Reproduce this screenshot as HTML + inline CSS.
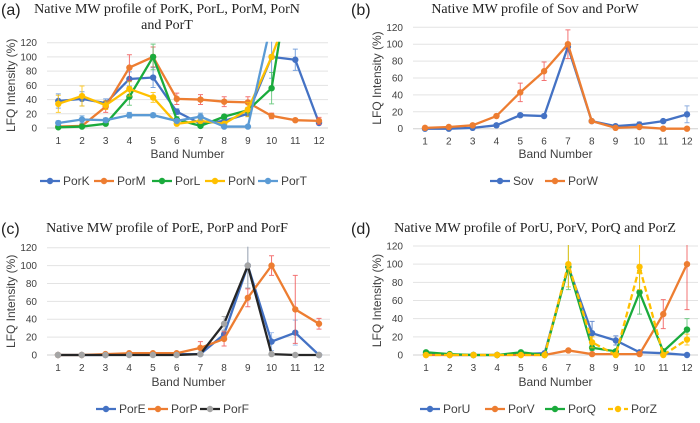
<!DOCTYPE html>
<html><head><meta charset="utf-8">
<style>
body{margin:0;background:#fff;width:700px;height:418px;overflow:hidden}
svg text{font-family:"Liberation Sans",sans-serif;fill:#404040}
.ttl{font-family:"Liberation Serif",serif;fill:#222;font-size:14px}
.pl{font-family:"Liberation Sans",sans-serif;fill:#222;font-size:16px}
</style></head>
<body>
<svg id="c" width="700" height="418" xmlns="http://www.w3.org/2000/svg"></svg>
<script>
const bands=[1,2,3,4,5,6,7,8,9,10,11,12];
const yTicks=[0,20,40,60,80,100,120];
// Panel a
const aPorK=[38,41,35,69,71,23,6,10,20,100,96,7];
const aPorM=[2,3,30,85,100,41,40,37,36,17,11,10];
const aPorL=[1,2,6,44,100,12,3,16,25,56,260,260];
const aPorN=[34,45,32,55,43,6,10,6,26,100,190,190];
const aPorT=[7,12,11,18,18,10,16,2,2,150,150,150];
const aErrK=[10,10,6,10,14,4,2,3,4,30,15,2];
const aErrM=[2,2,8,18,14,8,7,7,8,4,2,5];
const aErrL=[1,1,2,12,18,4,2,3,4,22,0,0];
const aErrN=[12,14,6,10,7,2,3,2,10,0,0,0];
const aErrT=[3,5,3,4,3,2,5,2,1,0,0,0];
// Panel b
const bSov=[0,0,1,4,16,15,97,9,3,5,9,17];
const bPorW=[1,2,4,15,43,68,100,9,1,2,0,0];
const bErrSov=[0,0,0,1,2,2,3,1,1,3,2,10];
const bErrW=[0,1,1,2,11,11,17,1,1,1,0,0];
// Panel c
const cPorE=[0,0,0,1,1,1,1,23,100,15,25,0];
const cPorP=[0,0,1,2,2,2,8,18,64,100,51,35];
const cPorF=[0,0,0,0,0,0,1,35,100,1,0,0];
const cErrE=[0,0,0,0,0,0,0,5,25,10,14,0];
const cErrP=[0,0,0,0,0,0,7,8,10,11,38,6];
const cErrF=[0,0,0,0,0,0,0,8,25,1,0,0];
// Panel d
const dPorU=[1,0,0,0,1,2,97,24,16,3,2,0];
const dPorV=[0,0,0,0,0,0,5,1,1,1,45,100];
const dPorQ=[3,1,0,0,3,0,97,8,4,69,4,28];
const dPorZ=[0,0,0,0,0,0,100,14,0,97,0,17];
const dErrU=[0,0,0,0,0,0,3,13,5,1,1,0];
const dErrV=[0,0,0,0,0,0,1,0,0,0,16,50];
const dErrQ=[1,0,0,0,1,0,25,3,2,24,2,12];
const dErrZ=[0,0,0,0,0,0,25,6,0,25,0,6];

const svg=document.getElementById('c');
const NS='http://www.w3.org/2000/svg';
function el(tag,attrs,parent){const e=document.createElementNS(NS,tag);for(const k in attrs)e.setAttribute(k,attrs[k]);(parent||svg).appendChild(e);return e;}

const panels=[
 {id:'a',label:'(a)',title:['Native MW profile of PorK, PorL, PorM, PorN','and PorT'],tx:167,ty:[13,29],
  gx0:47,gx1:328,x1:58.3,x12:319,y0:128,y120:42.7,bandY:158,legY:185,
  series:[['PorK',aPorK,aErrK,'#4472C4','#5b8fd6',false],['PorM',aPorM,aErrM,'#ED7D31','#f05050',false],['PorL',aPorL,aErrL,'#1aab3c','#52c06a',false],['PorN',aPorN,aErrN,'#FFC000','#ffc000',false],['PorT',aPorT,aErrT,'#5B9BD5','#5b9bd5',false]],
  leg:[40,94,152,205,258]},
 {id:'b',label:'(b)',title:['Native MW profile of Sov and PorW'],tx:535,ty:[13],
  gx0:413,gx1:698,x1:425,x12:687,y0:128.7,y120:27.3,bandY:158,legY:185,
  series:[['Sov',bSov,bErrSov,'#4472C4','#6f97d6',false],['PorW',bPorW,bErrW,'#ED7D31','#f05050',false]],
  leg:[490,545]},
 {id:'c',label:'(c)',title:['Native MW profile of PorE, PorP and PorF'],tx:167,ty:[232],
  gx0:47,gx1:330,x1:58,x12:319,y0:355,y120:247.7,bandY:386,legY:413,
  series:[['PorE',cPorE,cErrE,'#4472C4','#8fb0e6',false],['PorP',cPorP,cErrP,'#ED7D31','#f05050',false],['PorF',cPorF,cErrF,'#262626','#a5a5a5',false]],
  leg:[96,148,200],mk:['#4472C4','#ED7D31','#a5a5a5']},
 {id:'d',label:'(d)',title:['Native MW profile of PorU, PorV, PorQ and PorZ'],tx:535,ty:[232],
  gx0:413,gx1:698,x1:426,x12:687,y0:355,y120:246,bandY:386,legY:413,
  series:[['PorU',dPorU,dErrU,'#4472C4','#4472C4',false],['PorV',dPorV,dErrV,'#ED7D31','#f05050',false],['PorQ',dPorQ,dErrQ,'#1aab3c','#52c06a',false],['PorZ',dPorZ,dErrZ,'#FFC000','#ffc000',true]],
  leg:[420,485,545,608]}
];

panels.forEach(p=>{
  const g=el('g',{});
  
  
  const xs=b=>p.x1+(b-1)*(p.x12-p.x1)/11;
  const ys=v=>p.y0-v*(p.y0-p.y120)/120;
  const cx0=p.gx0, cw=p.gx1-p.gx0;
  const lbl=el('text',{x:0,y:p.ty[0]+2,'class':'pl'},g);lbl.textContent=p.label;
  lbl.setAttribute('x',p.id==='a'||p.id==='c'?1:351);
  
  
  p.title.forEach((t,i)=>{const e=el('text',{x:p.tx,y:p.ty[i],'text-anchor':'middle','class':'ttl'},g);e.textContent=t;
    
    });
  yTicks.forEach(v=>{
    const l=el('line',{x1:p.gx0,x2:p.gx1,y1:ys(v),y2:ys(v),stroke:v===0?'#d0d0d0':'#e3e3e3','stroke-width':1},g);
    
    
    const t=el('text',{x:p.gx0-10,y:ys(v)+3.5,'text-anchor':'end','font-size':'10'},g);t.textContent=v;
    
    
  });
  bands.forEach(b=>{const t=el('text',{x:xs(b),y:p.y0+16,'text-anchor':'middle','font-size':'10'},g);t.textContent=b;
    
    });
  const xt=el('text',{x:(p.gx0+p.gx1)/2,y:p.bandY,'text-anchor':'middle','font-size':'12'},g);xt.textContent='Band Number';
  
  
  const ymid=(p.y0+p.y120)/2, yx=p.gx0-32;
  const yt=el('text',{x:yx,y:ymid,'text-anchor':'middle','font-size':'12',transform:`rotate(-90 ${yx} ${ymid})`},g);yt.textContent='LFQ Intensity (%)';
  
  
  const cid='clip'+p.id;
  const cp=el('clipPath',{id:cid},g);el('rect',{x:cx0,y:p.y120-1,width:cw,height:p.y0-p.y120+6},cp);
  const plot=el('g',{'clip-path':`url(#${cid})`},g);
  p.series.forEach((s,si)=>{
    const [name,vals,errs,col,ecol,dash]=s;
    const sg=el('g',{},plot);
    
    
    vals.forEach((v,i)=>{if(errs[i]>0){
      const x=xs(bands[i]);
      const e=el('path',{d:`M${x},${ys(v-errs[i])}V${ys(v+errs[i])}M${x-2.5},${ys(v-errs[i])}h5M${x-2.5},${ys(v+errs[i])}h5`,stroke:ecol,'stroke-width':1,fill:'none',opacity:0.8},sg);
      
      
    }});
    const pts=vals.map((v,i)=>xs(bands[i])+','+ys(v)).join(' ');
    const pl=el('polyline',{points:pts,fill:'none',stroke:col,'stroke-width':2.3,'stroke-dasharray':dash?'6 3':'none'},sg);
    
    
    const mc=p.mk?p.mk[si]:col;
    vals.forEach((v,i)=>{const c=el('circle',{cx:xs(bands[i]),cy:ys(v),r:3.2,fill:mc},sg);
      
      });
    const lx=p.leg[si];
    const lg=el('g',{},g);
    
    
    el('line',{x1:lx,x2:lx+20,y1:p.legY-4,y2:p.legY-4,stroke:col,'stroke-width':2.3,'stroke-dasharray':dash?'5 3':'none'},lg);
    el('circle',{cx:lx+10,cy:p.legY-4,r:3.2,fill:mc},lg);
    const lt=el('text',{x:lx+23,y:p.legY,'font-size':'12'},lg);lt.textContent=name;
  });
});
</script>
</body></html>
